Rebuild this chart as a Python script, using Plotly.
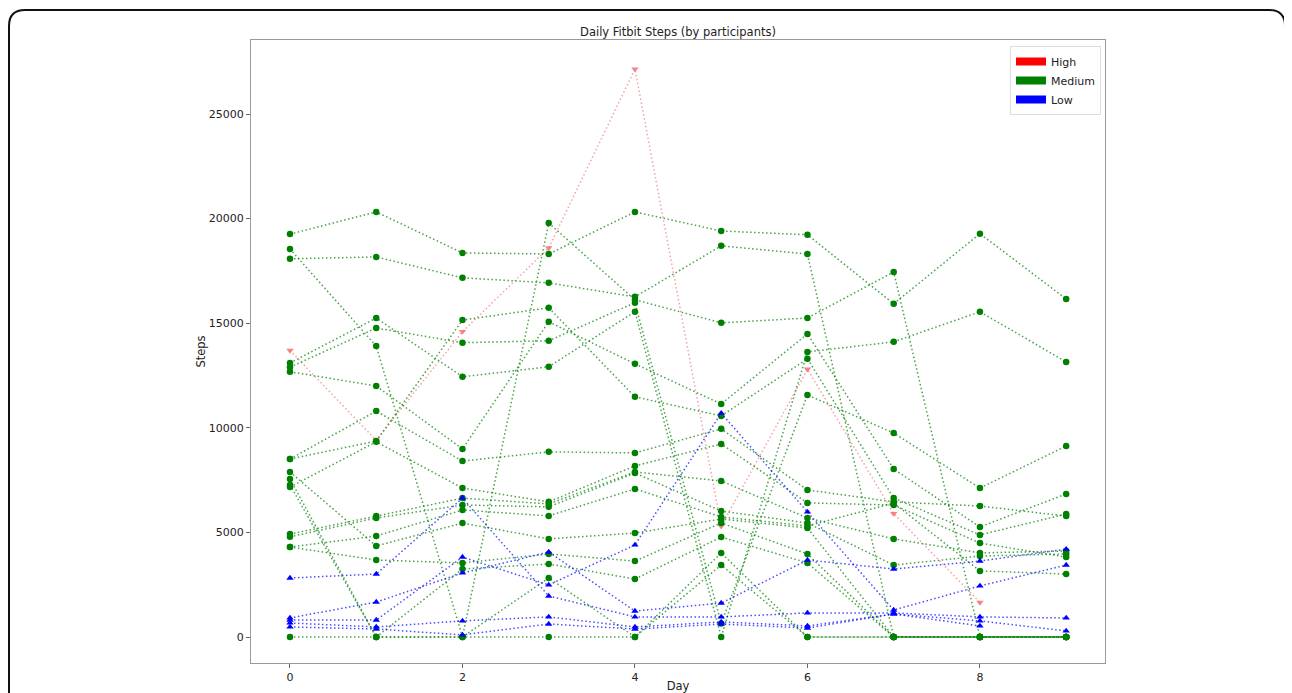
import plotly.graph_objects as go

days = list(range(10))

high_steps = [
    [13700, 9400, 14600, 18600, 27150, 5300, 12800, 5900, 1650, None],
]

medium_steps = [
    [19260, 20320, 18360, 18310, 20320, 19410, 19230, 15930, 19280, 16160],
    [18080, 18170, 17170, 16930, 16260, 18700, 18310, 0, 0, 0],
    [18550, 13910, 0, 19790, 16120, 15020, 15250, 17450, 0, 0],
    [12900, 14770, 14070, 14160, 15980, 650, 11570, 9750, 7120, 9130],
    [13100, 15250, 12440, 12920, 15550, 0, 13630, 14110, 15550, 13150],
    [12680, 12000, 8990, 15070, 13060, 11140, 14490, 8030, 5260, 6840],
    [8510, 9370, 15150, 15740, 11480, 10570, 13300, 6640, 4880, 5880],
    [8510, 10800, 8410, 8850, 8800, 9950, 7030, 6460, 6260, 5780],
    [7170, 9330, 7120, 6460, 8180, 9230, 6410, 6310, 4490, 3820],
    [4920, 5780, 6640, 6360, 7890, 7460, 5690, 4690, 4020, 4110],
    [4790, 5690, 6310, 6220, 7840, 6020, 5450, 3440, 3870, 3970],
    [4300, 4830, 6070, 5790, 7080, 5740, 5310, 6400, 3160, 3010],
    [7890, 4350, 5450, 4690, 4970, 5640, 5210, 0, 0, 0],
    [4300, 3680, 3540, 3970, 3630, 5450, 3970, 0, 0, 0],
    [7550, 0, 3250, 3490, 2770, 4780, 3540, 0, 0, 0],
    [7270, 0, 0, 2820, 0, 4020, 0, 0, 0, 0],
    [0, 0, 0, 0, 0, 3440, 0, 0, 0, 0],
]

low_steps = [
    [2820, 3010, 6640, 1960, 960, 960, 1150, 1150, 960, 910],
    [910, 1670, 3060, 4060, 1240, 1620, 3680, 3250, 3630, 4200],
    [810, 810, 3820, 2490, 4400, 10700, 5980, 1290, 2440, 3440],
    [670, 480, 770, 960, 480, 720, 530, 1100, 770, 290],
    [480, 380, 100, 620, 380, 620, 430, 1100, 530, None],
]

group_names = ["High", "Medium", "Low"]
x_ticks = [0, 2, 4, 6, 8]
y_ticks = [0, 5000, 10000, 15000, 20000, 25000]
y_tick_labels = ["0", "5000", "10000", "15000", "20000", "25000"]

# page body has an 8px margin; figure coordinates = screen - 8
OFF = 8
W, H = 1292 - OFF, 693 - OFF
ML, MT = 251 - OFF, 40 - OFF
MR = W - (1105 - OFF)
MB = H - (663 - OFF)
PW, PH = W - ML - MR, H - MT - MB

styles = {
    "High": dict(line="rgba(240,100,100,0.6)", marker="rgba(242,120,120,0.9)", symbol="triangle-down"),
    "Medium": dict(line="rgba(0,128,0,0.72)", marker="#008000", symbol="circle"),
    "Low": dict(line="rgba(0,0,255,0.7)", marker="#0000ff", symbol="triangle-up"),
}
legend_colors = {"High": "#ff0000", "Medium": "#008000", "Low": "#0000ff"}

fig = go.Figure()

for name, series in zip(group_names, [high_steps, medium_steps, low_steps]):
    st = styles[name]
    for vals in series:
        fig.add_trace(go.Scatter(
            x=days, y=vals, mode="lines+markers",
            line=dict(color=st["line"], width=1.5, dash="1.5px,2.5px"),
            marker=dict(color=st["marker"], symbol=st["symbol"], size=6.5),
            showlegend=False, connectgaps=False,
        ))

for name in group_names:
    fig.add_trace(go.Scatter(
        x=[None], y=[None], mode="lines", name=name,
        line=dict(color=legend_colors[name], width=8),
        showlegend=True,
    ))


def px(x):
    return (x - OFF - ML) / PW


def py(y):
    return (H - MB - (y - OFF)) / PH


frame_path = (
    f"M {px(9)},{py(720)} L {px(9)},{py(26)} Q {px(9)},{py(10)} {px(25)},{py(10)} "
    f"L {px(1269)},{py(10)} Q {px(1285)},{py(10)} {px(1285)},{py(26)} L {px(1285)},{py(720)}"
)

fig.update_layout(
    width=W, height=H,
    margin=dict(l=ML, r=MR, t=MT, b=MB, autoexpand=False),
    paper_bgcolor="white", plot_bgcolor="white",
    font=dict(family="DejaVu Sans", size=11, color="#222"),
    title=dict(text="Daily Fitbit Steps (by participants)", x=px(678), xref="paper",
               xanchor="center", y=1 - (32 - OFF) / H, yref="container", yanchor="middle",
               font=dict(size=11.5, color="#222")),
    xaxis=dict(range=[-0.452, 9.45], tickvals=x_ticks, showgrid=False, zeroline=False,
               showline=True, linecolor="#999", linewidth=1, mirror=True,
               ticks="outside", ticklen=4, tickcolor="#666", automargin=False,
               title=dict(text="Day", standoff=0, font=dict(size=11.5))),
    yaxis=dict(range=[-1243, 28540], tickvals=y_ticks, ticktext=y_tick_labels,
               showgrid=False, zeroline=False, automargin=False,
               showline=True, linecolor="#999", linewidth=1, mirror=True,
               ticks="outside", ticklen=4, tickcolor="#666",
               title=dict(text="Steps", standoff=0, font=dict(size=11.5))),
    legend=dict(x=px(1101), y=py(46), xanchor="right", yanchor="top",
                bgcolor="white", bordercolor="#ddd", borderwidth=1,
                font=dict(size=11), tracegroupgap=0, itemwidth=30),
    shapes=[dict(type="path", xref="paper", yref="paper", path=frame_path,
                 line=dict(color="#111", width=2))],
)

fig.write_html("out.html")
